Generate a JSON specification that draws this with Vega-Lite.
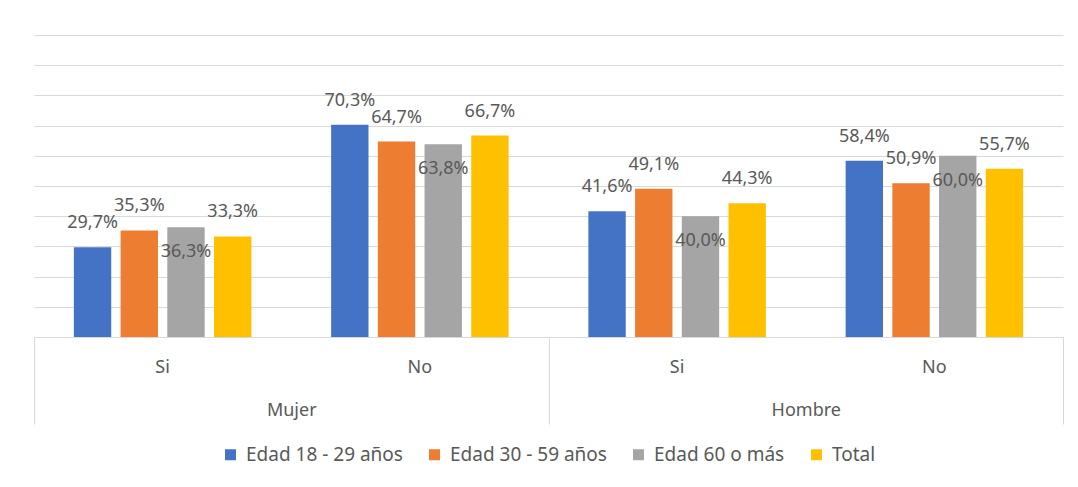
{
  "$schema": "https://vega.github.io/schema/vega-lite/v6.json",
  "width": 1029,
  "height": 302,
  "autosize": {"type": "none"},
  "padding": {"left": 34, "top": 35, "right": 15, "bottom": 150},
  "background": "white",
  "config": {
    "view": {"stroke": null},
    "font": "Noto Sans",
    "axis": {"labelFont": "Noto Sans", "labelColor": "#595959", "labelFontSize": 18},
    "legend": {"layout": {"bottom": {"anchor": "middle"}}}
  },
  "data": {
    "values": [
      {"sexo": "Mujer", "resp": "Si", "grupo": "Mujer|Si", "serie": "Edad 18 - 29 años", "valor": 29.7, "etiqueta": "29,7%"},
      {"sexo": "Mujer", "resp": "Si", "grupo": "Mujer|Si", "serie": "Edad 30 - 59 años", "valor": 35.3, "etiqueta": "35,3%"},
      {"sexo": "Mujer", "resp": "Si", "grupo": "Mujer|Si", "serie": "Edad 60 o más", "valor": 36.3, "etiqueta": "36,3%"},
      {"sexo": "Mujer", "resp": "Si", "grupo": "Mujer|Si", "serie": "Total", "valor": 33.3, "etiqueta": "33,3%"},
      {"sexo": "Mujer", "resp": "No", "grupo": "Mujer|No", "serie": "Edad 18 - 29 años", "valor": 70.3, "etiqueta": "70,3%"},
      {"sexo": "Mujer", "resp": "No", "grupo": "Mujer|No", "serie": "Edad 30 - 59 años", "valor": 64.7, "etiqueta": "64,7%"},
      {"sexo": "Mujer", "resp": "No", "grupo": "Mujer|No", "serie": "Edad 60 o más", "valor": 63.8, "etiqueta": "63,8%"},
      {"sexo": "Mujer", "resp": "No", "grupo": "Mujer|No", "serie": "Total", "valor": 66.7, "etiqueta": "66,7%"},
      {"sexo": "Hombre", "resp": "Si", "grupo": "Hombre|Si", "serie": "Edad 18 - 29 años", "valor": 41.6, "etiqueta": "41,6%"},
      {"sexo": "Hombre", "resp": "Si", "grupo": "Hombre|Si", "serie": "Edad 30 - 59 años", "valor": 49.1, "etiqueta": "49,1%"},
      {"sexo": "Hombre", "resp": "Si", "grupo": "Hombre|Si", "serie": "Edad 60 o más", "valor": 40.0, "etiqueta": "40,0%"},
      {"sexo": "Hombre", "resp": "Si", "grupo": "Hombre|Si", "serie": "Total", "valor": 44.3, "etiqueta": "44,3%"},
      {"sexo": "Hombre", "resp": "No", "grupo": "Hombre|No", "serie": "Edad 18 - 29 años", "valor": 58.4, "etiqueta": "58,4%"},
      {"sexo": "Hombre", "resp": "No", "grupo": "Hombre|No", "serie": "Edad 30 - 59 años", "valor": 50.9, "etiqueta": "50,9%"},
      {"sexo": "Hombre", "resp": "No", "grupo": "Hombre|No", "serie": "Edad 60 o más", "valor": 60.0, "etiqueta": "60,0%"},
      {"sexo": "Hombre", "resp": "No", "grupo": "Hombre|No", "serie": "Total", "valor": 55.7, "etiqueta": "55,7%"}
    ]
  },
  "layer": [
    {
      "encoding": {
        "x": {
          "field": "grupo",
          "type": "nominal",
          "sort": ["Mujer|Si", "Mujer|No", "Hombre|Si", "Hombre|No"],
          "scale": {"paddingInner": 0.31, "paddingOuter": 0.155},
          "axis": {
            "title": null,
            "labelExpr": "split(datum.value, '|')[1]",
            "labelAngle": 0,
            "ticks": false,
            "domainColor": "#d9d9d9",
            "domainWidth": 1,
            "labelPadding": 21,
            "grid": false
          }
        },
        "xOffset": {
          "field": "serie",
          "type": "nominal",
          "sort": ["Edad 18 - 29 años", "Edad 30 - 59 años", "Edad 60 o más", "Total"],
          "scale": {"paddingInner": 0.2, "paddingOuter": 0}
        },
        "y": {
          "field": "valor",
          "type": "quantitative",
          "scale": {"domain": [0, 100], "nice": false},
          "axis": {
            "title": null,
            "labels": false,
            "ticks": false,
            "domain": false,
            "values": [0, 10, 20, 30, 40, 50, 60, 70, 80, 90, 100],
            "gridColor": "#d9d9d9",
            "gridWidth": 1
          }
        }
      },
      "layer": [
        {
          "mark": {"type": "bar"},
          "encoding": {
            "color": {
              "field": "serie",
              "type": "nominal",
              "scale": {
                "domain": ["Edad 18 - 29 años", "Edad 30 - 59 años", "Edad 60 o más", "Total"],
                "range": ["#4472C4", "#ED7D31", "#A5A5A5", "#FFC000"]
              },
              "legend": {
                "title": null,
                "orient": "bottom",
                "direction": "horizontal",
                "symbolType": "square",
                "symbolSize": 121,
                "symbolStrokeWidth": 0,
                "symbolOpacity": 1,
                "labelFont": "Noto Sans",
                "labelFontSize": 19,
                "labelColor": "#595959",
                "columnPadding": 22,
                "labelOffset": 6,
                "offset": 20
              }
            }
          }
        },
        {
          "transform": [{"filter": "datum.serie !== 'Edad 60 o más'"}],
          "mark": {"type": "text", "baseline": "middle", "align": "center", "dy": -24, "fontSize": 18, "color": "#595959", "font": "Noto Sans"},
          "encoding": {"text": {"field": "etiqueta"}}
        },
        {
          "transform": [{"filter": "datum.serie === 'Edad 60 o más'"}],
          "mark": {"type": "text", "baseline": "middle", "align": "center", "dy": 25, "fontSize": 18, "color": "#595959", "font": "Noto Sans"},
          "encoding": {"text": {"field": "etiqueta"}}
        }
      ]
    },
    {
      "mark": {"type": "bar", "opacity": 0},
      "encoding": {
        "x": {
          "field": "sexo",
          "type": "nominal",
          "sort": ["Mujer", "Hombre"],
          "scale": {"paddingInner": 0, "paddingOuter": 0},
          "axis": {
            "orient": "bottom",
            "title": null,
            "labelAngle": 0,
            "tickBand": "extent",
            "tickSize": 87,
            "tickColor": "#d9d9d9",
            "tickWidth": 1,
            "domain": false,
            "grid": false,
            "labelPadding": -23
          }
        },
        "y": {
          "field": "valor",
          "type": "quantitative",
          "scale": {"domain": [0, 100], "nice": false},
          "axis": {
            "title": null,
            "labels": false,
            "ticks": false,
            "domain": false,
            "values": [0, 10, 20, 30, 40, 50, 60, 70, 80, 90, 100],
            "gridColor": "#d9d9d9",
            "gridWidth": 1
          }
        }
      }
    }
  ],
  "resolve": {"scale": {"x": "independent"}}
}
